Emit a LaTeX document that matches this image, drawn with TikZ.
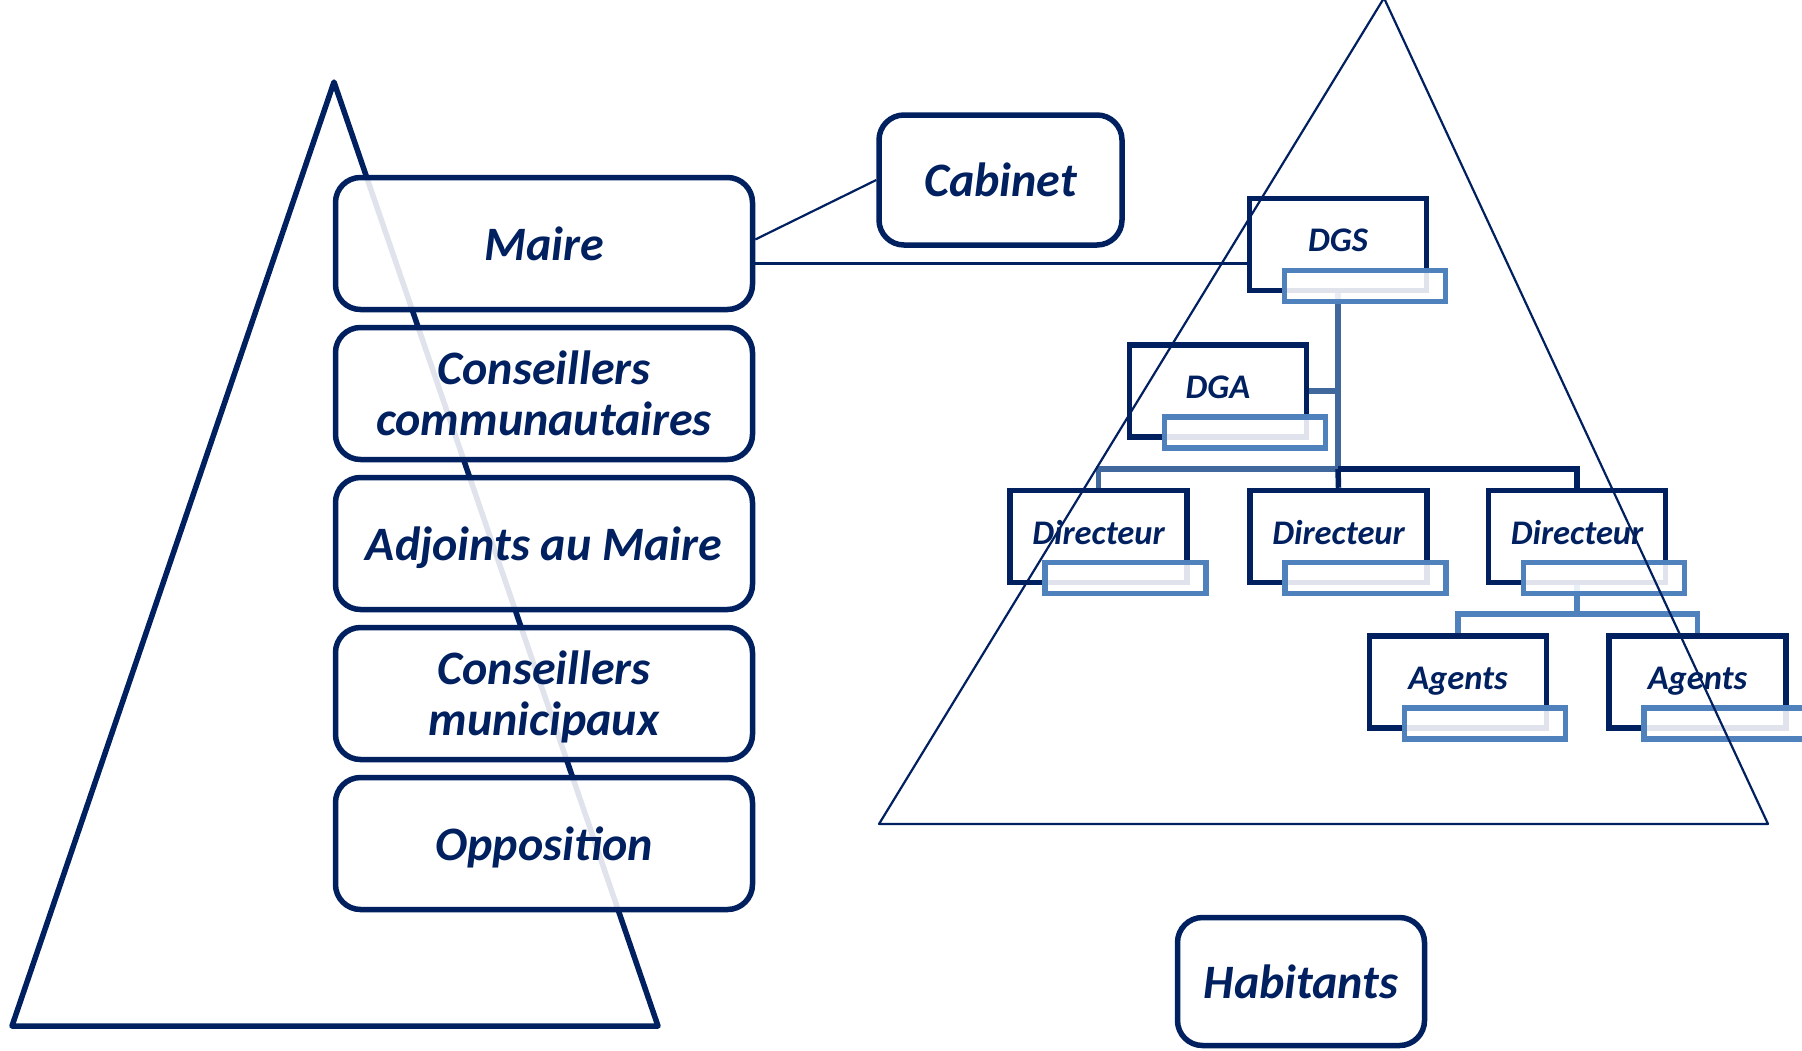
\documentclass[tikz,border=0pt]{standalone}
\usepackage{fontspec}
\setmainfont{Carlito}
\usetikzlibrary{backgrounds}
\definecolor{navy}{HTML}{002060}
\definecolor{lblue}{HTML}{4F81BD}
\definecolor{mblue}{HTML}{41689C}
\tikzset{
  bigbox/.style={draw=navy, line width=5.5pt, rounded corners=25pt, fill=white, fill opacity=0.88, text opacity=1, text=navy,
    minimum width=417pt, minimum height=132pt, inner sep=0pt, align=center, text depth=0pt,
    font=\fontsize{48}{51}\selectfont\bfseries\itshape},
  orgbox/.style={draw=navy, line width=5.5pt, fill=white, minimum width=177pt, minimum height=92pt, inner sep=0pt},
  subbox/.style={draw=lblue, line width=5.5pt, fill=white, fill opacity=0.88, minimum width=161pt, minimum height=31pt, inner sep=0pt},
  orglabel/.style={text=navy, inner sep=0pt, text depth=0pt, font=\fontsize{34.5}{37}\selectfont\bfseries\itshape},
  link/.style={draw=navy, line width=2.2pt},
  conn/.style={draw=mblue, line width=5.5pt},
  connl/.style={draw=lblue, line width=5.5pt},
  connd/.style={draw=navy, line width=5.5pt},
}
\begin{document}
\begin{tikzpicture}[x=1pt,y=-1pt]
\useasboundingbox (0,0) rectangle (1802,1050);
% left triangle
\draw[navy, line width=5.5pt, line join=round] (334,82) -- (12,1026) -- (658,1026) -- cycle;
% left boxes
\node[bigbox] (maire) at (544,243.5) {Maire};
\node[bigbox] (ccom) at (544,393.5) {Conseillers\\communautaires};
\node[bigbox] (adj) at (544,543.5) {Adjoints au Maire};
\node[bigbox] (cmun) at (544,693.5) {Conseillers\\municipaux};
\node[bigbox] (opp) at (544,843.5) {Opposition};
% cabinet and habitants
\node[bigbox, fill opacity=1, minimum width=243pt, minimum height=130pt] (cabinet) at (1000.5,180) {Cabinet};
\node[bigbox, fill opacity=1, minimum width=247pt, minimum height=128pt] (hab) at (1301,981.5) {Habitants};
% org chart boxes
\foreach \n/\x/\y/\t in {dgs/1338/244.5/DGS, dga/1218/391/DGA, dira/1098.5/536.5/Directeur, dirb/1338.5/536.5/Directeur, dirc/1577/536.5/Directeur, aga/1458/682/Agents, agb/1697.5/682/Agents}{
  \node[orgbox] (\n) at (\x,\y) {};
  \node[orglabel] (\n txt) at (\x,\y-4) {\t};
  \node[subbox] (\n sub) at (\x+27,\y+41.5) {};
}
\coordinate (bus) at (1338,469);
\coordinate (abus) at (1577,614);
\begin{scope}[on background layer]
  \draw[conn] (dgs.south) -- (bus);
  \draw[conn] (dga.east) -- (dga.east -| dgs.south);
  \draw[conn] (bus) -- (bus -| dira.north) -- (dira.north);
  \draw[connd] (bus) -- (dirb.north);
  \draw[connd] (bus) -- (bus -| dirc.north) -- (dirc.north);
  \draw[connl] (dirc.south) -- (abus);
  \draw[connl] (aga.north) -- (aga.north |- abus) -- (agb.north |- abus) -- (agb.north);
\end{scope}
% links from Maire
\draw[link] ([yshift=4pt]maire.east) -- (cabinet.west);
\draw[link] ([yshift=-20pt]maire.east) -- ([yshift=-20pt]maire.east -| dgs.west);
% right triangle
\draw[navy, line width=2.2pt, line join=round] (1384,-2) -- (879,824) -- (1768,824) -- cycle;
\end{tikzpicture}
\end{document}
